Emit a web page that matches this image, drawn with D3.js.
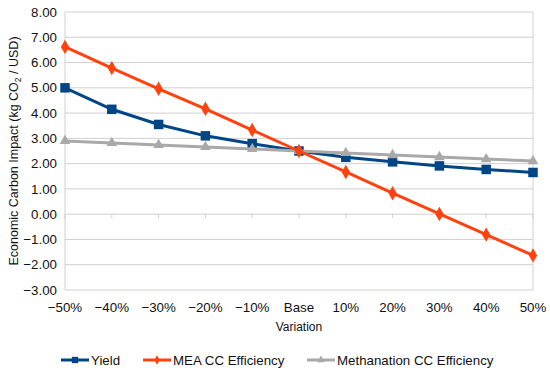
<!DOCTYPE html>
<html>
<head>
<meta charset="utf-8">
<script src="https://cdn.jsdelivr.net/npm/d3@7"></script>
<style>
  body { margin: 0; background: #fff; }
  text { font-family: "Liberation Sans", Arial, sans-serif; fill: #111; }
</style>
</head>
<body>
<div id="chart"></div>
<script>
const categories = ["\u221250%", "\u221240%", "\u221230%", "\u221220%", "\u221210%", "Base", "10%", "20%", "30%", "40%", "50%"];
const yieldValues = [5.00, 4.15, 3.55, 3.10, 2.79, 2.50, 2.25, 2.07, 1.91, 1.77, 1.65];
const meaValues = [6.62, 5.78, 4.96, 4.17, 3.33, 2.50, 1.67, 0.83, 0.01, -0.81, -1.63];
const methanationValues = [2.90, 2.82, 2.74, 2.66, 2.58, 2.50, 2.42, 2.34, 2.26, 2.18, 2.10];
const yTicks = d3.range(-3, 8.01, 1);

const width = 550;
const height = 373;
const margin = { left: 65, right: 17, top: 12, bottom: 83 };

const svg = d3.select("#chart").append("svg")
  .attr("width", width)
  .attr("height", height);

const x = d3.scalePoint()
  .domain(categories)
  .range([margin.left, width - margin.right]);

const y = d3.scaleLinear()
  .domain([-3, 8])
  .range([height - margin.bottom, margin.top]);

const gridColor = "#d0d0d0";

// horizontal grid
svg.append("g")
  .selectAll("line")
  .data(yTicks)
  .join("line")
  .attr("x1", margin.left)
  .attr("x2", width - margin.right)
  .attr("y1", (d) => y(d))
  .attr("y2", (d) => y(d))
  .attr("stroke", gridColor)
  .attr("stroke-width", 1);

// plot frame sides
svg.append("line")
  .attr("x1", margin.left).attr("x2", margin.left)
  .attr("y1", y(8)).attr("y2", y(-3))
  .attr("stroke", gridColor);
svg.append("line")
  .attr("x1", width - margin.right).attr("x2", width - margin.right)
  .attr("y1", y(8)).attr("y2", y(-3))
  .attr("stroke", gridColor);

// category ticks on the zero line
svg.append("g")
  .selectAll("line")
  .data(categories)
  .join("line")
  .attr("x1", (d) => x(d))
  .attr("x2", (d) => x(d))
  .attr("y1", y(0))
  .attr("y2", y(0) + 4)
  .attr("stroke", gridColor);

// y tick labels
svg.append("g")
  .selectAll("text")
  .data(yTicks)
  .join("text")
  .attr("x", margin.left - 8)
  .attr("y", (d) => y(d))
  .attr("dy", "0.35em")
  .attr("text-anchor", "end")
  .attr("font-size", 13.3)
  .text((d) => d3.format(".2f")(d).replace("-", "\u2212"));

// x tick labels
svg.append("g")
  .selectAll("text")
  .data(categories)
  .join("text")
  .attr("x", (d) => x(d))
  .attr("y", y(-3) + 22)
  .attr("text-anchor", "middle")
  .attr("font-size", 13.3)
  .text((d) => d);

// axis titles
svg.append("text")
  .attr("x", (margin.left + width - margin.right) / 2)
  .attr("y", y(-3) + 41)
  .attr("text-anchor", "middle")
  .attr("font-size", 12)
  .text("Variation");

const yTitle = svg.append("text")
  .attr("transform", `translate(18,${(y(8) + y(-3)) / 2}) rotate(-90)`)
  .attr("text-anchor", "middle")
  .attr("font-size", 12.5);
yTitle.append("tspan").text("Economic Carbon Impact (kg CO");
yTitle.append("tspan").attr("font-size", 8.5).attr("dy", 3).text("2");
yTitle.append("tspan").attr("dy", -3).text(" / USD)");

const series = [
  { name: "Yield", values: yieldValues, color: "#004586", shape: d3.symbolSquare, size: 90 },
  { name: "Methanation CC Efficiency", values: methanationValues, color: "#a9a9a9", shape: d3.symbolTriangle, size: 50 },
  { name: "MEA CC Efficiency", values: meaValues, color: "#ff420e", shape: d3.symbolDiamond, size: 60 }
];

const line = d3.line()
  .x((d, i) => x(categories[i]))
  .y((d) => y(d));

series.forEach((s) => {
  const g = svg.append("g");
  g.append("path")
    .attr("d", line(s.values))
    .attr("fill", "none")
    .attr("stroke", s.color)
    .attr("stroke-width", 3);
  g.selectAll("path.marker")
    .data(s.values)
    .join("path")
    .attr("class", "marker")
    .attr("transform", (d, i) => `translate(${x(categories[i])},${y(d)})`)
    .attr("d", d3.symbol().type(s.shape).size(s.size))
    .attr("fill", s.color);
});

// legend
const legendItems = [
  { name: "Yield", color: "#004586", shape: d3.symbolSquare, size: 40, x: 61 },
  { name: "MEA CC Efficiency", color: "#ff420e", shape: d3.symbolDiamond, size: 25, x: 143 },
  { name: "Methanation CC Efficiency", color: "#a9a9a9", shape: d3.symbolTriangle, size: 25, x: 307 }
];
const legendY = 360;
const legend = svg.append("g");
legendItems.forEach((item) => {
  const g = legend.append("g").attr("transform", `translate(${item.x},${legendY})`);
  g.append("line")
    .attr("x1", 0).attr("x2", 28)
    .attr("stroke", item.color)
    .attr("stroke-width", 3);
  g.append("path")
    .attr("transform", "translate(14,0)")
    .attr("d", d3.symbol().type(item.shape).size(item.size))
    .attr("fill", item.color);
  g.append("text")
    .attr("x", 30)
    .attr("dy", "0.35em")
    .attr("font-size", 13.3)
    .text(item.name);
});
</script>
</body>
</html>
